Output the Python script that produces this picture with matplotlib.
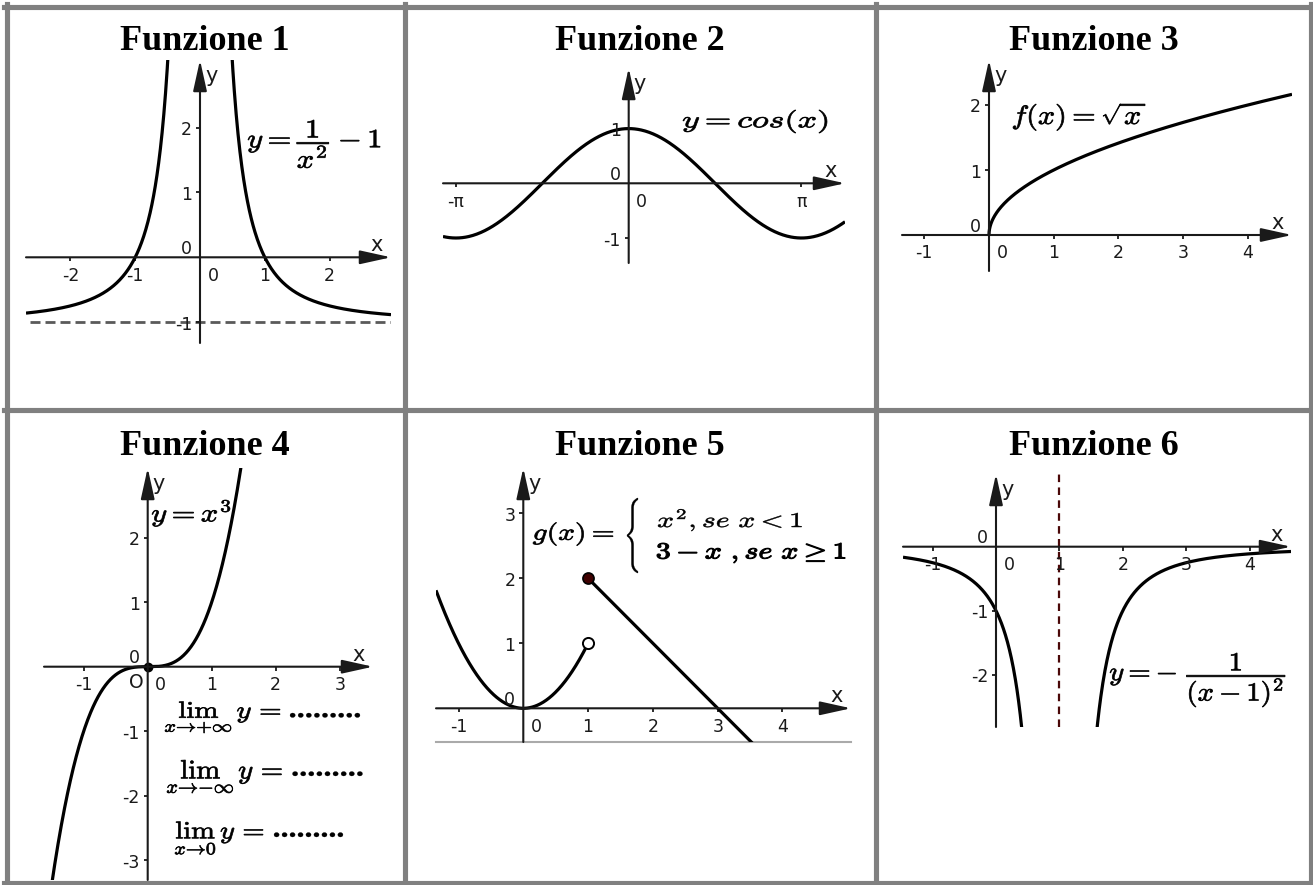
import numpy as np
import matplotlib
matplotlib.use('Agg')
import matplotlib.pyplot as plt
from matplotlib import transforms
from matplotlib.lines import Line2D
from matplotlib.textpath import TextPath
from matplotlib.patches import PathPatch
from matplotlib.font_manager import FontProperties
from matplotlib.transforms import Affine2D

plt.rcParams['mathtext.fontset'] = 'cm'

W, H = 1313, 885
fig = plt.figure(figsize=(W / 100, H / 100), dpi=100)

# chart content
titles = ['Funzione 1', 'Funzione 2', 'Funzione 3', 'Funzione 4', 'Funzione 5', 'Funzione 6']

p1_xticks = [-2, -1, 1, 2]
p1_yticks = [-1, 1, 2]
p1_asymptote_y = -1

p2_xticks = [-np.pi, np.pi]
p2_xlabels = ['-π', 'π']
p2_yticks = [-1, 1]

p3_xticks = [-1, 1, 2, 3, 4]
p3_yticks = [1, 2]

p4_xticks = [-1, 1, 2, 3]
p4_yticks = [-3, -2, -1, 1, 2]

p5_xticks = [-1, 1, 2, 3, 4]
p5_yticks = [1, 2, 3]
p5_break_x = 1

p6_xticks = [-1, 1, 2, 3, 4]
p6_yticks = [-2, -1]
p6_asymptote_x = 1

AXC = '#1a1a1a'
TICKFONT = 12.5
LABFONT = 15


def px(x, y):
    return x / W, 1 - y / H


def make_panel(left, right, top, bottom, ox, oy, ux, uy):
    ax = fig.add_axes([left / W, 1 - bottom / H, (right - left) / W, (bottom - top) / H])
    ax.set_xlim((left - ox) / ux, (right - ox) / ux)
    ax.set_ylim((oy - bottom) / uy, (oy - top) / uy)
    ax.axis('off')
    return ax


def off(ax, dx, dy):
    return transforms.offset_copy(ax.transData, fig=fig, x=dx, y=dy, units='dots')


def draw_axes(ax, xticks, yticks, xlabels=None, ylabels=None):
    x0, x1 = ax.get_xlim()
    y0, y1 = ax.get_ylim()
    style = '-|>,head_length=1.9,head_width=0.42'
    ax.annotate('', xy=(x1, 0), xytext=(x0, 0), annotation_clip=False,
                arrowprops=dict(arrowstyle=style, color=AXC, lw=1.5, shrinkA=0, shrinkB=0))
    ax.annotate('', xy=(0, y1), xytext=(0, y0), annotation_clip=False,
                arrowprops=dict(arrowstyle=style, color=AXC, lw=1.5, shrinkA=0, shrinkB=0))
    ax.plot(xticks, [0] * len(xticks), ls='none', marker=3, ms=3, mew=1.3, color=AXC, clip_on=False)
    ax.plot([0] * len(yticks), yticks, ls='none', marker=0, ms=3, mew=1.3, color=AXC, clip_on=False)
    if xlabels is None:
        xlabels = [str(t) for t in xticks]
    if ylabels is None:
        ylabels = [str(t) for t in yticks]
    for t, lab in zip(xticks, xlabels):
        ax.text(t, 0, lab, ha='center', va='baseline', fontsize=TICKFONT, color=AXC,
                transform=off(ax, 0, -23.5))
    for t, lab in zip(yticks, ylabels):
        ax.text(0, t, lab, ha='right', va='baseline', fontsize=TICKFONT, color=AXC,
                transform=off(ax, -8, -7.5))
    # the two zeros at the origin
    ax.text(0, 0, '0', ha='right', va='baseline', fontsize=TICKFONT, color=AXC,
            transform=off(ax, -8, 3.5))
    ax.text(0, 0, '0', ha='center', va='baseline', fontsize=TICKFONT, color=AXC,
            transform=off(ax, 13, -23.5))
    ax.text(x1, 0, 'x', ha='center', va='baseline', fontsize=LABFONT, color=AXC,
            transform=off(ax, -14, 6))
    ax.text(0, y1, 'y', ha='left', va='baseline', fontsize=LABFONT, color=AXC,
            transform=off(ax, 5, -22))


def formula(s, x0, x1, y0=None, y1=None, em=None, base=None, weight=0.5, prop=None):
    # fit the text into the pixel box of the picture: either a full box (y0..y1)
    # or a given em size placed on a baseline, stretched to the width x0..x1
    tp = TextPath((0, 0), s, size=20, prop=prop)
    ext = tp.get_extents()
    sx = (x1 - x0) / ext.width
    if em is None:
        sy = (y1 - y0) / ext.height
        tr = Affine2D().translate(-ext.x0, -ext.y0).scale(sx, sy).translate(x0, H - y1)
    else:
        sy = em / 20
        tr = Affine2D().translate(-ext.x0, 0).scale(sx, sy).translate(x0, H - base)
    fig.add_artist(PathPatch(tp, transform=tr, facecolor='black', edgecolor='black',
                             lw=weight, zorder=5))


CURVE = dict(color='black', lw=2.3, solid_capstyle='butt')
DOTS = FontProperties(family='Liberation Serif', weight='bold')

# ---------------- Funzione 1 ----------------
ax1 = make_panel(26, 391, 60, 343, 200, 257.3, 64.8, 64.8)
ax1.axhline(p1_asymptote_y, xmin=0.01, color='#5a5a5a', lw=2, dashes=(3.6, 1.8))
draw_axes(ax1, p1_xticks, p1_yticks)
xa = np.linspace(ax1.get_xlim()[0], -0.05, 400)
xb = np.linspace(0.05, ax1.get_xlim()[1], 400)
ax1.plot(xa, 1 / xa ** 2 - 1, **CURVE)
ax1.plot(xb, 1 / xb ** 2 - 1, **CURVE)
formula(r'$y = \dfrac{1}{x^2} - 1$', 248, 380, 120, 168)

# ---------------- Funzione 2 ----------------
ax2 = make_panel(443, 845, 68, 263, 628.7, 183.3, 55, 54.7)
draw_axes(ax2, p2_xticks, p2_yticks, xlabels=p2_xlabels)
x2 = np.linspace(*ax2.get_xlim(), 500)
ax2.plot(x2, np.cos(x2), **CURVE)
formula(r'$y = cos(x)$', 683, 827, 110, 133)

# ---------------- Funzione 3 ----------------
ax3 = make_panel(902, 1292, 60, 271, 989, 235, 64.7, 65)
draw_axes(ax3, p3_xticks, p3_yticks)
x3 = np.concatenate([np.linspace(0, 0.05, 200), np.linspace(0.05, ax3.get_xlim()[1], 600)])
ax3.plot(x3, np.sqrt(x3), **CURVE)
formula(r'$f(x) = \sqrt{x}$', 1013, 1145, 104, 130.5)

# ---------------- Funzione 4 ----------------
ax4 = make_panel(44, 373, 468, 880, 147.7, 666.7, 64, 64.5)
draw_axes(ax4, p4_xticks, p4_yticks)
x4 = np.linspace(ax4.get_xlim()[0], 1.6, 500)
ax4.plot(x4, x4 ** 3, **CURVE)
ax4.plot([0], [0], 'o', color='black', ms=6, clip_on=False)
ax4.text(0, 0, 'O', ha='center', va='baseline', fontsize=TICKFONT + 1, color=AXC,
         transform=off(ax4, -11, -21))
formula(r'$y = x^3$', 152, 230, 500, 526.5)
formula(r'$\lim_{x\to+\infty}\,y\ =$', 165, 280, 701.5, 733)
formula(r'$\lim_{x\to-\infty}\,y\ =$', 167, 281.5, 760, 793)
formula(r'$\lim_{x\to 0}\,y\ =$', 175, 263, 821.5, 854.5)
formula('.........', 290, 360, 713, 717.5, weight=0.2, prop=DOTS)
formula('.........', 292.5, 362.5, 771.5, 776, weight=0.2, prop=DOTS)
formula('.........', 274, 343, 832.5, 837, weight=0.2, prop=DOTS)

# ---------------- Funzione 5 ----------------
ax5 = make_panel(436, 851, 468, 742, 523.3, 708.3, 64.8, 65)
ax5.axhline(ax5.get_ylim()[0], color='#aaaaaa', lw=1.5, clip_on=False)
draw_axes(ax5, p5_xticks, p5_yticks)
x5a = np.linspace(ax5.get_xlim()[0], p5_break_x - 0.04, 400)
x5b = np.linspace(p5_break_x, ax5.get_xlim()[1], 400)
ax5.plot(x5a, x5a ** 2, **CURVE)
ax5.plot(x5b, 3 - x5b, **CURVE)
ax5.plot([p5_break_x], [p5_break_x ** 2], 'o', ms=8, mfc='white', mec='black', mew=1.4, clip_on=False)
ax5.plot([p5_break_x], [3 - p5_break_x], 'o', ms=8, mfc='#3f0000', mec='black', mew=1.2, clip_on=False)
formula(r'$g(x) =$', 533, 613, 522.5, 545.5)
formula(r'$\{$', 627, 638, 498, 573, weight=0.2)
formula(r'$x^2, se\ x < 1$', 658, 801.5, em=21, base=527, weight=0.35)
formula(r'$3 - x\ , se\ x \geq 1$', 657, 845, em=23, base=558.5, weight=0.8)

# ---------------- Funzione 6 ----------------
ax6 = make_panel(903, 1291, 474, 727, 996, 546.7, 63.4, 64)
ax6.axvline(p6_asymptote_x, ymin=0, ymax=1.016, color='#4a0808', lw=1.6, dashes=(3.4, 2.4), clip_on=False)
draw_axes(ax6, p6_xticks, p6_yticks)
x6a = np.linspace(ax6.get_xlim()[0], 0.6, 400)
x6b = np.linspace(1.4, ax6.get_xlim()[1], 400)
ax6.plot(x6a, -1 / (x6a - 1) ** 2, **CURVE)
ax6.plot(x6b, -1 / (x6b - 1) ** 2, **CURVE)
formula(r'$y = -\ \dfrac{1}{(x-1)^2}$', 1110, 1285, 653, 707)

# ---------------- titles ----------------
title_x = [205, 639.5, 1093.5, 205, 639.5, 1093.5]
title_y = [49.5, 49.5, 49.5, 455, 455, 455]
for t, tx, ty in zip(titles, title_x, title_y):
    fig.text(*px(tx, ty), t, ha='center', va='baseline', fontsize=26,
             fontweight='bold', family='Liberation Serif', color='black')

# ---------------- table grid ----------------
GRID = '#808080'
for gx in [6.5, 404.5, 875.5, 1310.5]:
    fig.add_artist(Line2D([gx / W] * 2, [1 - 4 / H, 1 - 885 / H], transform=fig.transFigure,
                          color=GRID, lw=3.7, zorder=10))
for gy in [6.5, 410, 882.5]:
    fig.add_artist(Line2D([4 / W, 1313 / W], [1 - gy / H] * 2, transform=fig.transFigure,
                          color=GRID, lw=3.7, zorder=10))

fig.savefig('out.png', dpi=100, facecolor='white')
